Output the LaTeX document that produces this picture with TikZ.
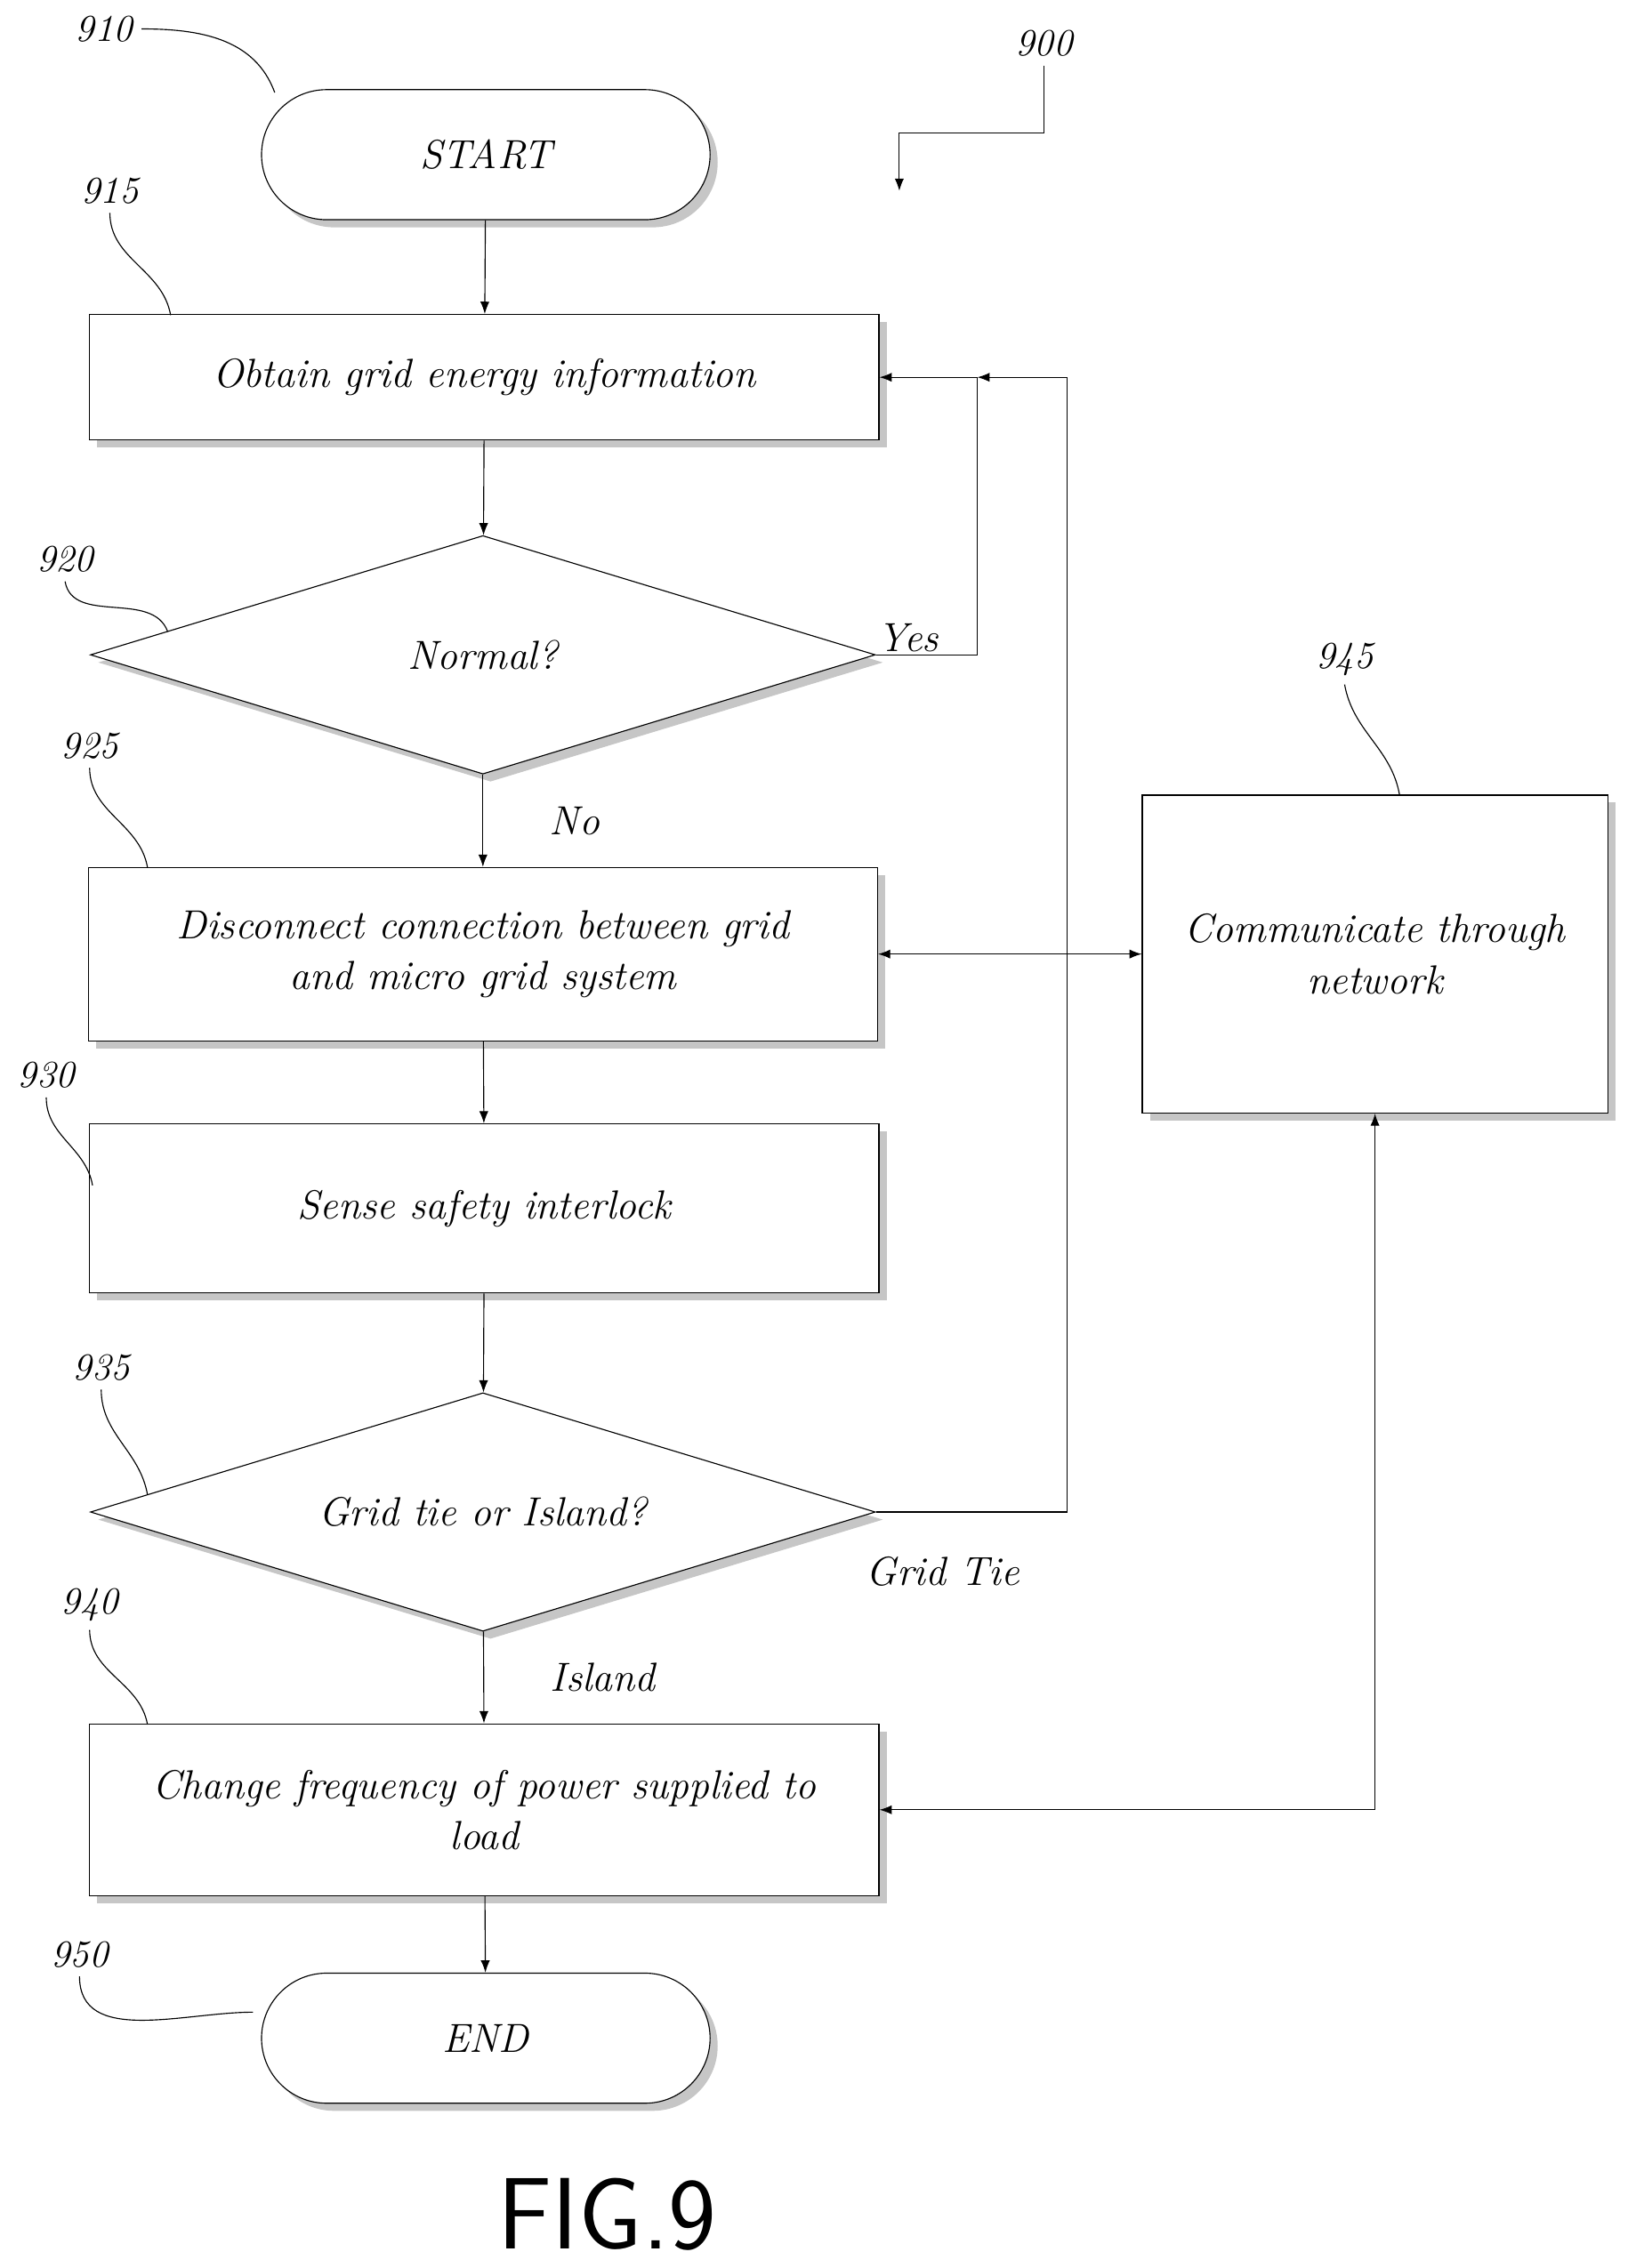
\documentclass[tikz,border=0pt]{standalone}
\usetikzlibrary{arrows.meta}
\usetikzlibrary{shapes.geometric}
\usetikzlibrary{shapes.misc}
\usetikzlibrary{shadows}
\usetikzlibrary{positioning}
\begin{document}
\begin{tikzpicture}[
    x=0.02cm, y=-0.02cm,
    font=\fontsize{16}{20}\selectfont\itshape,
    boxshadow/.style={drop shadow={opacity=0.45,shadow xshift=3pt,shadow yshift=-3pt}},
    term/.style={rounded rectangle,draw,fill=white,boxshadow,minimum width=6.44cm,minimum height=1.8cm},
    task/.style={rectangle,draw,fill=white,boxshadow,minimum width=10.92cm,align=center},
    test/.style={diamond,draw,fill=white,boxshadow,aspect=3.3,minimum width=10.86cm,minimum height=3.3cm,inner sep=0pt},
    ref/.style={font=\fontsize{15}{18}\selectfont\itshape},
    lead/.style={thin}
    ]
    \useasboundingbox (0,0) rectangle (1131,1569);
    \node[term] (start) at (336,107) {START};
    \node[task,minimum height=1.74cm] (obtain) at (335,261) {Obtain grid energy information};
    \node[test] (normal) at (334,453) {Normal?};
    \node[task,minimum height=2.4cm] (disc) at (334,660) {Disconnect connection between grid\\and micro grid system};
    \node[task,minimum height=2.34cm] (sense) at (335,836) {Sense safety interlock};
    \node[test] (tie) at (334,1046) {Grid tie or Island?};
    \node[task,minimum height=2.38cm] (freq) at (335,1252) {Change frequency of power supplied to\\load};
    \node[term] (end) at (336,1410) {END};
    \node[rectangle,draw,fill=white,boxshadow,minimum width=6.44cm,minimum height=4.4cm,align=center] (comm) at (951,660) {Communicate through\\network};

    \draw[-Latex] (start) -- (obtain);
    \draw[-Latex] (obtain) -- (normal);
    \draw[-Latex] (normal) -- (disc) node[pos=0.5,right=8mm] {No};
    \draw[-Latex] (disc) -- (sense);
    \draw[-Latex] (sense) -- (tie);
    \draw[-Latex] (tie) -- (freq) node[pos=0.5,right=8mm] {Island};
    \draw[-Latex] (freq) -- (end);

    \coordinate (yesturn) at (676,261);
    \coordinate (tieturn) at (738,261);
    \draw[-Latex] (normal.east) -| (yesturn) -- (obtain.east);
    \node at (628,441) {Yes};
    \draw[-Latex] (tie.east) -| (tieturn) -- (yesturn);
    \node at (652,1087) {Grid Tie};
    \draw[Latex-Latex] (disc.east) -- (comm.west);
    \draw[Latex-Latex] (comm.south) |- (freq.east);

    % reference numerals
    \node[ref] (l910) at (72,20) {910};
    \node[ref] (l915) at (76,132) {915};
    \node[ref] (l920) at (45,387) {920};
    \node[ref] (l925) at (62,516) {925};
    \node[ref] (l930) at (32,744) {930};
    \node[ref] (l935) at (70,946) {935};
    \node[ref] (l940) at (62,1110) {940};
    \node[ref] (l950) at (55,1352) {950};
    \node[ref] (l945) at (930,456) {945};
    \node[ref] (l900) at (722,30) {900};
    \draw[lead] (l910.east) to[out=0,in=110] (190,64);
    \draw[lead] (l915.south) to[out=-90,in=100] (118,218);
    \draw[lead] (l920.south) to[out=-80,in=110] (116,437);
    \draw[lead] (l925.south) to[out=-90,in=100] (102,600);
    \draw[lead] (l930.south) to[out=-90,in=100] (64,820);
    \draw[lead] (l935.south) to[out=-90,in=100] (102,1034);
    \draw[lead] (l940.south) to[out=-90,in=100] (102,1193);
    \draw[lead] (l950.south) to[out=-90,in=180] (175,1392);
    \draw[lead] (l945.south) to[out=-80,in=100] (968,550);
    \coordinate (a900) at (622,132);
    \draw[-Latex] (l900.south) -- (722,92) -- (622,92) -- (a900);

    \node[font=\fontsize{40}{44}\selectfont\sffamily] (fig) at (420,1532) {FIG.9};
\end{tikzpicture}
\end{document}
